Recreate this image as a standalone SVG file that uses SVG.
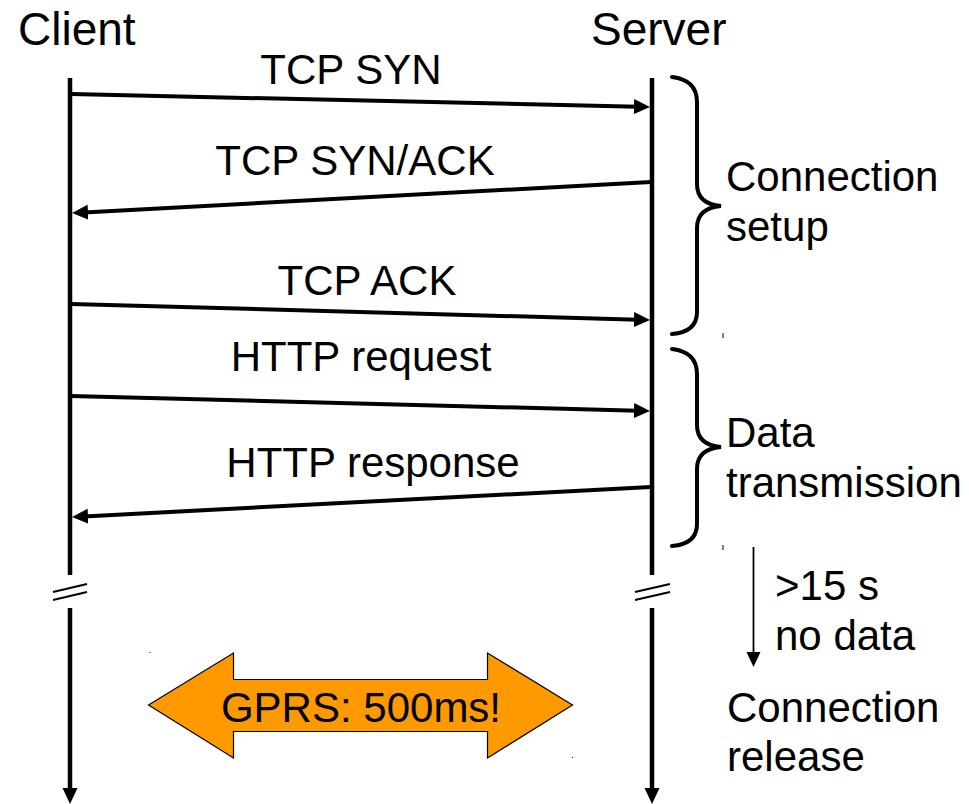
<svg xmlns="http://www.w3.org/2000/svg" width="969" height="804" viewBox="0 0 969 804">
<style>
text{font-family:"Liberation Sans",Arial,sans-serif;fill:#000}
.t{font-size:46px}
.l{font-size:42px}
.life{stroke:#000;stroke-width:4.5;fill:none}
.msg{stroke:#000;stroke-width:4;fill:none}
.brk{stroke:#000;stroke-width:2.2;fill:none}
.brace{stroke:#000;stroke-width:4;fill:none;stroke-linecap:round}
.thin{stroke:#000;stroke-width:1.8;fill:none}
</style>
<defs>
<marker id="ah" markerUnits="userSpaceOnUse" markerWidth="16" markerHeight="16" refX="4" refY="8" orient="auto" viewBox="0 0 16 16">
<path d="M0,0.5 L16,8 L0,15.5 z" fill="#000"/>
</marker>
<marker id="ahs" markerUnits="userSpaceOnUse" markerWidth="16" markerHeight="16" refX="3" refY="8" orient="auto" viewBox="0 0 16 16">
<path d="M0,0.5 L16,8 L0,15.5 z" fill="#000"/>
</marker>
</defs>
<g id="client">
<text class="t" x="18" y="45">Client</text>
<line class="life" x1="70" y1="78" x2="70" y2="575"/>
<line class="brk" x1="53" y1="592" x2="87" y2="584"/>
<line class="brk" x1="53" y1="600" x2="87" y2="592"/>
<line class="life" x1="70" y1="608" x2="70" y2="791" marker-end="url(#ahs)"/>
</g>
<g id="server">
<text class="t" x="591" y="45">Server</text>
<line class="life" x1="652" y1="78" x2="652" y2="575"/>
<line class="brk" x1="635" y1="592" x2="670" y2="584"/>
<line class="brk" x1="635" y1="600" x2="670" y2="592"/>
<line class="life" x1="652" y1="608" x2="652" y2="791" marker-end="url(#ahs)"/>
</g>
<g id="connectors">
<line class="msg" x1="71" y1="94" x2="638" y2="106.7" marker-end="url(#ah)"/>
<line class="msg" x1="651" y1="182" x2="84" y2="212.4" marker-end="url(#ah)"/>
<line class="msg" x1="71" y1="304" x2="638" y2="319.7" marker-end="url(#ah)"/>
<line class="msg" x1="71" y1="396" x2="638" y2="410.7" marker-end="url(#ah)"/>
<line class="msg" x1="651" y1="487" x2="84" y2="516.4" marker-end="url(#ah)"/>
</g>
<g id="labels">
<text class="l" x="351" y="84" text-anchor="middle">TCP SYN</text>
<text class="l" x="355" y="175" text-anchor="middle">TCP SYN/ACK</text>
<text class="l" x="367" y="295" text-anchor="middle">TCP ACK</text>
<text class="l" x="361" y="371" text-anchor="middle">HTTP request</text>
<text class="l" x="373" y="477" text-anchor="middle">HTTP response</text>
</g>
<g id="setup">
<path class="brace" d="M672,77 Q697,80 697,102 L697,184 Q697,204 721,206 Q697,208 697,228 L697,312 Q697,332 672,334"/>
<text class="l" x="726" y="191">Connection</text>
<text class="l" x="726" y="241">setup</text>
<line stroke="#000" stroke-width="1" x1="723" y1="333" x2="723" y2="338"/>
</g>
<g id="data">
<path class="brace" d="M672,349 Q697,352 697,374 L697,425 Q697,445 721,447 Q697,449 697,469 L697,524 Q697,544 672,546"/>
<text class="l" x="726" y="447">Data</text>
<text class="l" x="726" y="497">transmission</text>
<line stroke="#000" stroke-width="1" x1="723" y1="545" x2="723" y2="550"/>
</g>
<g id="idle">
<line class="thin" x1="753.5" y1="547" x2="753.5" y2="654"/>
<path d="M746.5,652 L760.5,652 L753.5,667 z" fill="#000"/>
<text class="l" x="775" y="600">&gt;15 s</text>
<text class="l" x="775" y="650">no data</text>
</g>
<g id="release">
<text class="l" x="727" y="722">Connection</text>
<text class="l" x="727" y="771">release</text>
</g>
<g id="gprs">
<path d="M148.5,705 L233.5,653 L233.5,679.5 L487.5,679.5 L487.5,653 L572.5,705 L487.5,758 L487.5,731.5 L233.5,731.5 L233.5,758 z" fill="#FF9900" stroke="#000" stroke-width="1.2" stroke-linejoin="miter"/>
<text class="l" x="361" y="722" text-anchor="middle">GPRS: 500ms!</text>
<rect x="149.5" y="652" width="1" height="1" fill="#000"/>
<rect x="572" y="757" width="1" height="1" fill="#000"/>
</g>
</svg>
